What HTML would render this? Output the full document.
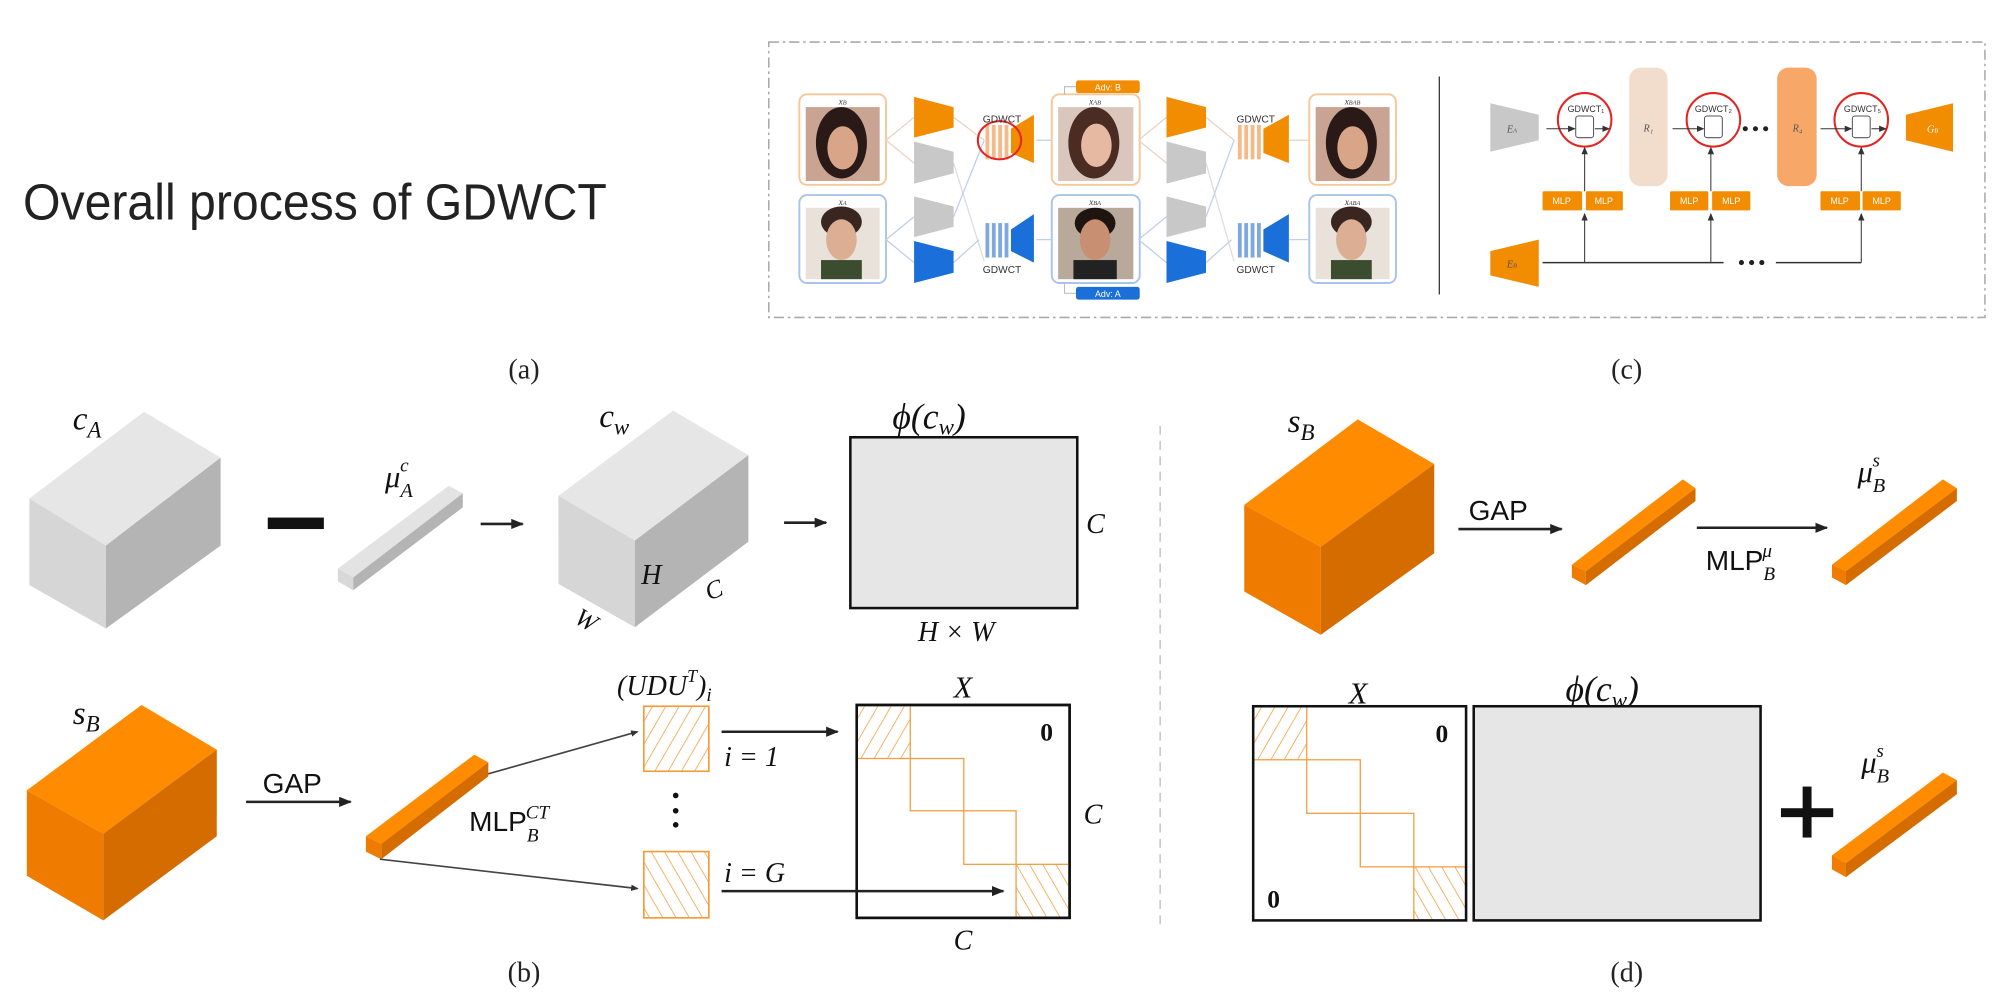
<!DOCTYPE html>
<html><head><meta charset="utf-8"><style>html,body{margin:0;padding:0;background:#fff}svg{display:block}</style></head>
<body>
<svg width="1999" height="1002" viewBox="0 0 1568 786" xmlns="http://www.w3.org/2000/svg">
<defs>
<marker id="ar" markerWidth="10" markerHeight="8" refX="9" refY="4" orient="auto" markerUnits="userSpaceOnUse"><path d="M0,0 L10,4 L0,8 z" fill="#222"/></marker>
<marker id="ars" markerWidth="6" markerHeight="5" refX="5" refY="2.5" orient="auto" markerUnits="userSpaceOnUse"><path d="M0,0 L6,2.5 L0,5 z" fill="#333"/></marker>
<pattern id="h1" width="9" height="9" patternUnits="userSpaceOnUse" patternTransform="rotate(30)"><line x1="0" y1="0" x2="0" y2="9" stroke="#f39c3c" stroke-width="1.2"/></pattern>
<pattern id="h2" width="9" height="9" patternUnits="userSpaceOnUse" patternTransform="rotate(-30)"><line x1="0" y1="0" x2="0" y2="9" stroke="#f39c3c" stroke-width="1.2"/></pattern>
</defs>
<rect width="1568" height="786" fill="#fff"/>

<!-- title -->
<text x="18" y="172" font-family="Liberation Sans, sans-serif" font-size="40" fill="#222" textLength="458" lengthAdjust="spacingAndGlyphs">Overall process of GDWCT</text>

<!-- top dashed box -->
<rect x="603" y="33" width="954" height="216" fill="none" stroke="#aaa" stroke-width="1.2" stroke-dasharray="8,3,2,3"/>
<!-- (a) faces -->
<g>
<rect x="627" y="74" width="68" height="71" rx="6" fill="#fff" stroke="#f5c89a" stroke-width="1.5"/>
<rect x="632" y="84" width="58" height="58" fill="#c9a493"/><ellipse cx="660" cy="112" rx="20" ry="28" fill="#2a1a17"/><ellipse cx="661" cy="116" rx="12" ry="17" fill="#d9a588"/>
<rect x="627" y="153" width="68" height="69" rx="6" fill="#fff" stroke="#a9c4e8" stroke-width="1.5"/>
<rect x="632" y="163" width="58" height="56" fill="#e9e2da"/><ellipse cx="660" cy="174" rx="16" ry="12" fill="#3a2620"/><ellipse cx="660" cy="188" rx="12" ry="16" fill="#dcae94"/><rect x="644" y="204" width="32" height="15" fill="#3b4d2e"/>
<rect x="825" y="74" width="69" height="71" rx="6" fill="#fff" stroke="#f5c89a" stroke-width="1.5"/>
<rect x="830" y="84" width="59" height="58" fill="#d9c7bd"/><ellipse cx="858" cy="112" rx="20" ry="28" fill="#4a2c22"/><ellipse cx="860" cy="114" rx="12" ry="17" fill="#e6b9a2"/>
<rect x="825" y="153" width="69" height="69" rx="6" fill="#fff" stroke="#a9c4e8" stroke-width="1.5"/>
<rect x="830" y="163" width="59" height="56" fill="#b9a99a"/><ellipse cx="859" cy="175" rx="16" ry="12" fill="#1e1410"/><ellipse cx="859" cy="188" rx="12" ry="16" fill="#c98f72"/><rect x="842" y="204" width="34" height="15" fill="#222"/>
<rect x="1027" y="74" width="68" height="71" rx="6" fill="#fff" stroke="#f5c89a" stroke-width="1.5"/>
<rect x="1032" y="84" width="58" height="58" fill="#c9a493"/><ellipse cx="1060" cy="112" rx="20" ry="28" fill="#2a1a17"/><ellipse cx="1061" cy="116" rx="12" ry="17" fill="#d9a588"/>
<rect x="1027" y="153" width="68" height="69" rx="6" fill="#fff" stroke="#a9c4e8" stroke-width="1.5"/>
<rect x="1032" y="163" width="58" height="56" fill="#e9e2da"/><ellipse cx="1060" cy="174" rx="16" ry="12" fill="#3a2620"/><ellipse cx="1060" cy="188" rx="12" ry="16" fill="#dcae94"/><rect x="1044" y="204" width="32" height="15" fill="#3b4d2e"/>
<g font-family="Liberation Serif, serif" font-style="italic" font-size="7" fill="#333" text-anchor="middle">
<text x="661" y="82">x<tspan font-size="5">B</tspan></text><text x="661" y="161">x<tspan font-size="5">A</tspan></text>
<text x="859" y="82">x<tspan font-size="5">AB</tspan></text><text x="859" y="161">x<tspan font-size="5">BA</tspan></text>
<text x="1061" y="82">x<tspan font-size="5">BAB</tspan></text><text x="1061" y="161">x<tspan font-size="5">ABA</tspan></text>
</g>
<!-- connecting lines -->
<g stroke="#e8d2c0" stroke-width="1" fill="none">
<path d="M695,110 L717,92 M695,110 L717,128 M748,92 L772,110 M893,110 L915,92 M893,110 L915,128 M946,92 L968,110 M1011,110 L1027,110"/>
<path d="M748,128 L772,205 M946,128 L968,205" stroke="#ddd"/>
</g>
<g stroke="#bcd0ec" stroke-width="1" fill="none">
<path d="M695,188 L717,170 M695,188 L717,206 M748,206 L768,188 M748,170 L772,110 M893,188 L915,170 M893,188 L915,206 M946,206 L966,188 M946,170 L968,110 M1011,188 L1027,188 M813,188 L825,188 M813,110 L825,110"/>
</g>
<!-- encoders col1 -->
<polygon points="717,76 748,84 748,100 717,108" fill="#f28c00"/>
<polygon points="717,111 748,119 748,136 717,144" fill="#c8c8c8"/>
<polygon points="717,154 748,162 748,178 717,186" fill="#c8c8c8"/>
<polygon points="717,189 748,197 748,214 717,222" fill="#1a6fd8"/>
<polygon points="915,76 946,84 946,100 915,108" fill="#f28c00"/>
<polygon points="915,111 946,119 946,136 915,144" fill="#c8c8c8"/>
<polygon points="915,154 946,162 946,178 915,186" fill="#c8c8c8"/>
<polygon points="915,189 946,197 946,214 915,222" fill="#1a6fd8"/>
<!-- GDWCT stripes & G -->
<g fill="#f5b98a"><rect x="773" y="98" width="3" height="27"/><rect x="778" y="98" width="3" height="27"/><rect x="783" y="98" width="3" height="27"/><rect x="788" y="98" width="3" height="27"/><rect x="971" y="98" width="3" height="27"/><rect x="976" y="98" width="3" height="27"/><rect x="981" y="98" width="3" height="27"/><rect x="986" y="98" width="3" height="27"/></g>
<g fill="#7fa8e0"><rect x="773" y="175" width="3" height="27"/><rect x="778" y="175" width="3" height="27"/><rect x="783" y="175" width="3" height="27"/><rect x="788" y="175" width="3" height="27"/><rect x="971" y="175" width="3" height="27"/><rect x="976" y="175" width="3" height="27"/><rect x="981" y="175" width="3" height="27"/><rect x="986" y="175" width="3" height="27"/></g>
<polygon points="793,101 811,90 811,128 793,120" fill="#f28c00"/>
<polygon points="991,101 1011,90 1011,128 991,120" fill="#f28c00"/>
<polygon points="793,180 811,168 811,206 793,197" fill="#1a6fd8"/>
<polygon points="991,180 1011,168 1011,206 991,197" fill="#1a6fd8"/>
<ellipse cx="784" cy="110" rx="17" ry="15" fill="none" stroke="#e52420" stroke-width="1.6"/>
<g font-family="Liberation Sans, sans-serif" font-size="8" fill="#333" text-anchor="middle">
<text x="786" y="96">GDWCT</text><text x="786" y="214">GDWCT</text><text x="985" y="96">GDWCT</text><text x="985" y="214">GDWCT</text>
</g>
<rect x="844" y="63" width="50" height="10" rx="2" fill="#f28c00"/><text x="869" y="71" font-family="Liberation Sans, sans-serif" font-size="7" fill="#fff" text-anchor="middle">Adv: B</text>
<rect x="844" y="225" width="50" height="10" rx="2" fill="#1a6fd8"/><text x="869" y="233" font-family="Liberation Sans, sans-serif" font-size="7" fill="#fff" text-anchor="middle">Adv: A</text>
<path d="M835,74 L835,68 L844,68 M835,222 L835,230 L844,230" stroke="#bbb" fill="none" stroke-width="0.8"/>
</g>
<line x1="1129" y1="60" x2="1129" y2="231" stroke="#333" stroke-width="1"/>
<!-- (c) -->
<g>
<polygon points="1169,81 1207,90 1207,110 1169,119" fill="#c8c8c8"/>
<rect x="1278" y="53" width="30" height="93" rx="9" fill="#f2dccb"/>
<rect x="1394" y="53" width="31" height="93" rx="9" fill="#f7a868"/>
<polygon points="1495,90 1532,81 1532,119 1495,110" fill="#f28c00"/>
<polygon points="1169,197 1207,188 1207,225 1169,216" fill="#f28c00"/>
<g fill="none" stroke="#e52420" stroke-width="1.6"><ellipse cx="1243" cy="94" rx="21" ry="21"/><ellipse cx="1344" cy="94" rx="21" ry="21"/><ellipse cx="1460" cy="94" rx="21" ry="21"/></g>
<g fill="#fff" stroke="#555" stroke-width="0.8"><rect x="1236" y="91" width="14" height="17" rx="2"/><rect x="1337" y="91" width="14" height="17" rx="2"/><rect x="1453" y="91" width="14" height="17" rx="2"/></g>
<g font-family="Liberation Sans, sans-serif" font-size="7" fill="#333" text-anchor="middle"><text x="1244" y="88">GDWCT₁</text><text x="1344" y="88">GDWCT₂</text><text x="1461" y="88">GDWCT₅</text></g>
<g font-family="Liberation Serif, serif" font-style="italic" font-size="8" fill="#555" text-anchor="middle"><text x="1293" y="103">R₁</text><text x="1410" y="103">R₄</text><text x="1516" y="104" fill="#fff">G<tspan font-size="5">B</tspan></text><text x="1186" y="104">E<tspan font-size="5">A</tspan></text><text x="1186" y="210">E<tspan font-size="5">B</tspan></text></g>
<g stroke="#333" stroke-width="0.8" fill="none" marker-end="url(#ars)"><path d="M1213,101 L1235,101"/><path d="M1251,101 L1262,101"/><path d="M1312,101 L1336,101"/><path d="M1428,101 L1452,101"/><path d="M1468,101 L1479,101"/><path d="M1243,150 L1243,116"/><path d="M1342,150 L1342,116"/><path d="M1460,150 L1460,116"/><path d="M1243,206 L1243,168"/><path d="M1342,206 L1342,168"/><path d="M1460,206 L1460,168"/></g>
<path d="M1210,206 L1352,206 M1393,206 L1460,206" stroke="#333" stroke-width="1.2"/>
<g fill="#222"><circle cx="1366" cy="206" r="2"/><circle cx="1374" cy="206" r="2"/><circle cx="1382" cy="206" r="2"/><circle cx="1369" cy="101" r="2"/><circle cx="1377" cy="101" r="2"/><circle cx="1385" cy="101" r="2"/></g>
<g fill="#f28c00"><rect x="1210" y="150" width="31" height="15" rx="1"/><rect x="1244" y="150" width="29" height="15" rx="1"/><rect x="1310" y="150" width="30" height="15" rx="1"/><rect x="1343" y="150" width="30" height="15" rx="1"/><rect x="1428" y="150" width="31" height="15" rx="1"/><rect x="1461" y="150" width="30" height="15" rx="1"/></g>
<g font-family="Liberation Sans, sans-serif" font-size="7" fill="#fff" text-anchor="middle"><text x="1225" y="160">MLP</text><text x="1258" y="160">MLP</text><text x="1325" y="160">MLP</text><text x="1358" y="160">MLP</text><text x="1443" y="160">MLP</text><text x="1476" y="160">MLP</text></g>
</g>

<g font-family="Liberation Serif, serif" font-size="22" fill="#222" text-anchor="middle">
<text x="411" y="297">(a)</text><text x="1276" y="297">(c)</text><text x="411" y="770">(b)</text><text x="1276" y="770">(d)</text>
</g>

<!-- vertical dashed separator -->
<line x1="910" y1="334" x2="910" y2="726" stroke="#bbb" stroke-width="1" stroke-dasharray="7,5"/>

<!-- (b) top row -->
<polygon points="113,323 173,359 83,428 23,391" fill="#e6e6e6"/>
<polygon points="23,391 83,428 83,493 23,459" fill="#d6d6d6"/>
<polygon points="83,428 173,359 173,428 83,493" fill="#b4b4b4"/>
<rect x="210" y="406" width="44" height="9" fill="#111"/>
<polygon points="265,446 352,381 363,387 277,453" fill="#e3e3e3"/>
<polygon points="277,453 363,387 363,398 277,463" fill="#b4b4b4"/>
<polygon points="265,446 277,453 277,463 265,456" fill="#d8d8d8"/>
<line x1="377" y1="411" x2="410" y2="411" stroke="#222" stroke-width="2" marker-end="url(#ar)"/>
<polygon points="528,322 587,357 498,424 438,389" fill="#e6e6e6"/>
<polygon points="438,389 498,424 498,492 438,458" fill="#d6d6d6"/>
<polygon points="498,424 587,357 587,425 498,492" fill="#b4b4b4"/>
<line x1="615" y1="410" x2="648" y2="410" stroke="#222" stroke-width="2" marker-end="url(#ar)"/>
<rect x="667" y="343" width="178" height="134" fill="#e6e6e6" stroke="#111" stroke-width="2"/>

<g font-family="Liberation Serif, DejaVu Serif, serif" font-style="italic" fill="#111">
<text x="57" y="337" font-size="26">c<tspan font-size="18" dy="6">A</tspan></text>
<text x="302" y="382" font-size="24">μ<tspan font-size="16" dy="8">A</tspan><tspan font-size="15" dx="-10" dy="-20">c</tspan></text>
<text x="470" y="335" font-size="26">c<tspan font-size="18" dy="6">w</tspan></text>
<text x="503" y="458" font-size="22">H</text>
<text x="554" y="470" font-size="20" transform="rotate(-20 558 465)">C</text>
<text x="452" y="494" font-size="20" transform="rotate(30 462 486)">W</text>
<text x="700" y="336" font-size="28">ϕ(c<tspan font-size="18" dy="5">w</tspan><tspan dy="-5">)</tspan></text>
<text x="852" y="418" font-size="22">C</text>
<text x="720" y="503" font-size="22">H × W</text>
<text x="57" y="568" font-size="26">s<tspan font-size="18" dy="6">B</tspan></text>
<text x="484" y="545" font-size="22">(UDU<tspan font-size="14" dy="-10">T</tspan><tspan dy="10">)</tspan><tspan font-size="15" dy="5">i</tspan></text>
<text x="748" y="547" font-size="24">X</text>
<text x="568" y="601" font-size="22">i = 1</text>
<text x="568" y="692" font-size="22">i = G</text>
<text x="718" y="582" font-size="15">C/G</text>
<text x="680" y="614" font-size="15">C/G</text>
<text x="850" y="646" font-size="22">C</text>
<text x="748" y="745" font-size="22">C</text>
<text x="1010" y="339" font-size="26">s<tspan font-size="18" dy="6">B</tspan></text>
<text x="1457" y="378" font-size="24">μ<tspan font-size="16" dy="8">B</tspan><tspan font-size="15" dx="-10" dy="-20">s</tspan></text>
<text x="1058" y="552" font-size="24">X</text>
<text x="1228" y="550" font-size="28">ϕ(c<tspan font-size="18" dy="5">w</tspan><tspan dy="-5">)</tspan></text>
<text x="1460" y="606" font-size="24">μ<tspan font-size="16" dy="8">B</tspan><tspan font-size="15" dx="-10" dy="-20">s</tspan></text>
</g>

<!-- (b) bottom row -->
<polygon points="111,553 170,588 81,654 21,620" fill="#ff8c00"/>
<polygon points="21,620 81,654 81,722 21,687" fill="#ef7b00"/>
<polygon points="81,654 170,588 170,656 81,722" fill="#d46c00"/>
<text x="206" y="622" font-family="Liberation Sans, sans-serif" font-size="22" fill="#111">GAP</text>
<line x1="193" y1="629" x2="275" y2="629" stroke="#222" stroke-width="2" marker-end="url(#ar)"/>
<polygon points="287,656 372,592 383,598 299,662" fill="#ff8c00"/>
<polygon points="299,662 383,598 383,609 299,674" fill="#d46c00"/>
<polygon points="287,656 299,662 299,674 287,668" fill="#ef7b00"/>
<text x="368" y="652" font-family="Liberation Sans, sans-serif" font-size="22" fill="#111">MLP<tspan font-family="Liberation Serif, serif" font-style="italic" font-size="15" dy="8">B</tspan><tspan font-family="Liberation Serif, serif" font-style="italic" font-size="15" dx="-10" dy="-18">CT</tspan></text>
<line x1="383" y1="607" x2="500" y2="574" stroke="#444" stroke-width="1.3" marker-end="url(#ars)"/>
<line x1="298" y1="674" x2="500" y2="697" stroke="#444" stroke-width="1.3" marker-end="url(#ars)"/>
<rect x="505" y="554" width="51" height="51" fill="url(#h1)" stroke="#f39c3c" stroke-width="1.3"/>
<rect x="505" y="668" width="51" height="52" fill="url(#h2)" stroke="#f39c3c" stroke-width="1.3"/>
<g fill="#111"><circle cx="530" cy="624" r="2.2"/><circle cx="530" cy="636" r="2.2"/><circle cx="530" cy="647" r="2.2"/></g>
<line x1="566" y1="574" x2="657" y2="574" stroke="#222" stroke-width="2" marker-end="url(#ar)"/>
<rect x="672" y="553" width="167" height="167" fill="#fff" stroke="#111" stroke-width="2"/>
<rect x="672" y="553" width="42" height="42" fill="url(#h1)" stroke="#f39c3c" stroke-width="1"/>
<rect x="714" y="595" width="42" height="41" fill="none" stroke="#f39c3c" stroke-width="1"/>
<rect x="756" y="636" width="41" height="42" fill="none" stroke="#f39c3c" stroke-width="1"/>
<rect x="797" y="678" width="42" height="42" fill="url(#h2)" stroke="#f39c3c" stroke-width="1"/>
<rect x="672" y="553" width="167" height="167" fill="none" stroke="#111" stroke-width="2"/>
<line x1="566" y1="699" x2="787" y2="699" stroke="#222" stroke-width="2" marker-end="url(#ar)"/>
<text x="816" y="581" font-family="Liberation Serif, serif" font-weight="bold" font-size="20" fill="#111">0</text>

<!-- (d) -->
<polygon points="1065,329 1125,364 1036,429 976,396" fill="#ff8c00"/>
<polygon points="976,396 1036,429 1036,498 976,464" fill="#ef7b00"/>
<polygon points="1036,429 1125,364 1125,434 1036,498" fill="#d46c00"/>
<text x="1152" y="408" font-family="Liberation Sans, sans-serif" font-size="22" fill="#111">GAP</text>
<line x1="1144" y1="415" x2="1225" y2="415" stroke="#222" stroke-width="2" marker-end="url(#ar)"/>
<polygon points="1233,443 1320,376 1330,383 1244,448" fill="#ff8c00"/>
<polygon points="1244,448 1330,383 1330,393 1244,459" fill="#d46c00"/>
<polygon points="1233,443 1244,448 1244,459 1233,453" fill="#ef7b00"/>
<line x1="1331" y1="414" x2="1433" y2="414" stroke="#222" stroke-width="2" marker-end="url(#ar)"/>
<text x="1338" y="447" font-family="Liberation Sans, sans-serif" font-size="22" fill="#111">MLP<tspan font-family="Liberation Serif, serif" font-style="italic" font-size="15" dy="8">B</tspan><tspan font-family="Liberation Serif, serif" font-style="italic" font-size="15" dx="-10" dy="-18">μ</tspan></text>
<polygon points="1437,443 1524,376 1535,383 1448,448" fill="#ff8c00"/>
<polygon points="1448,448 1535,383 1535,393 1448,459" fill="#d46c00"/>
<polygon points="1437,443 1448,448 1448,459 1437,453" fill="#ef7b00"/>

<rect x="983" y="554" width="167" height="168" fill="#fff"/>
<rect x="983" y="554" width="42" height="42" fill="url(#h1)" stroke="#f39c3c" stroke-width="1"/>
<rect x="1025" y="596" width="42" height="42" fill="none" stroke="#f39c3c" stroke-width="1"/>
<rect x="1067" y="638" width="42" height="42" fill="none" stroke="#f39c3c" stroke-width="1"/>
<rect x="1109" y="680" width="41" height="42" fill="url(#h2)" stroke="#f39c3c" stroke-width="1"/>
<rect x="983" y="554" width="167" height="168" fill="none" stroke="#111" stroke-width="2"/>
<text x="1126" y="582" font-family="Liberation Serif, serif" font-weight="bold" font-size="20" fill="#111">0</text>
<text x="994" y="712" font-family="Liberation Serif, serif" font-weight="bold" font-size="20" fill="#111">0</text>
<rect x="1156" y="554" width="225" height="168" fill="#e6e6e6" stroke="#111" stroke-width="2"/>
<rect x="1397" y="634" width="41" height="7" fill="#111"/><rect x="1414" y="617" width="7" height="40" fill="#111"/>
<polygon points="1437,671 1524,606 1535,612 1448,677" fill="#ff8c00"/>
<polygon points="1448,677 1535,612 1535,623 1448,688" fill="#d46c00"/>
<polygon points="1437,671 1448,677 1448,688 1437,682" fill="#ef7b00"/>
</svg>
</body></html>
